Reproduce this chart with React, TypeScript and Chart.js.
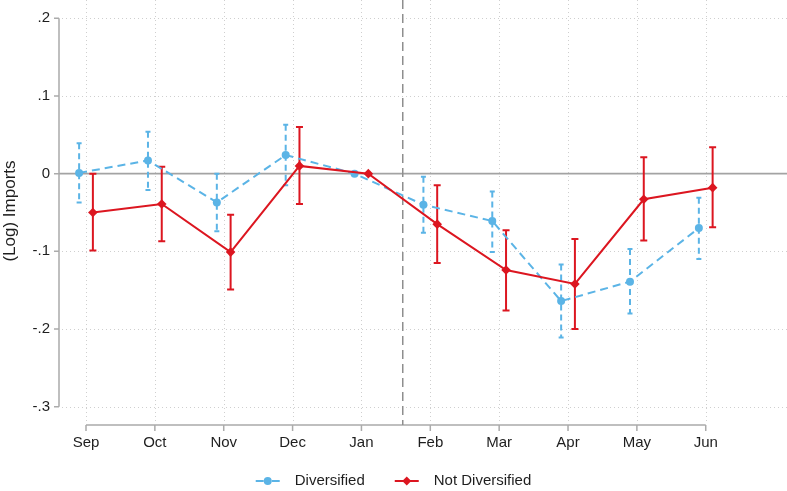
import React, { useEffect, useRef } from 'react';
import { Chart, registerables } from 'chart.js';

Chart.register(...registerables);

// ---- Data ----
const months = ['Sep', 'Oct', 'Nov', 'Dec', 'Jan', 'Feb', 'Mar', 'Apr', 'May', 'Jun'];

const divEst = [0.001, 0.017, -0.037, 0.024, 0.0, -0.040, -0.061, -0.164, -0.139, -0.070];
const divLo = [-0.037, -0.021, -0.074, -0.015, null, -0.076, -0.101, -0.211, -0.180, -0.110];
const divHi = [0.039, 0.054, 0.000, 0.063, null, -0.004, -0.023, -0.117, -0.097, -0.031];

const ndEst = [-0.050, -0.039, -0.101, 0.010, 0.0, -0.065, -0.124, -0.142, -0.033, -0.018];
const ndLo = [-0.099, -0.087, -0.149, -0.039, null, -0.115, -0.176, -0.200, -0.086, -0.069];
const ndHi = [0.000, 0.009, -0.053, 0.060, null, -0.015, -0.073, -0.084, 0.021, 0.034];

const yTickValues = [-0.3, -0.2, -0.1, 0, 0.1, 0.2];
const yTickLabels = ['-.3', '-.2', '-.1', '0', '.1', '.2'];

const seriesNames = ['Diversified', 'Not Diversified'];
const breakAt = 4.6; // vertical dashed reference line (between Jan and Feb)
const shift = 0.1; // horizontal dodge of the two series

// ---- Style ----
const BLUE = '#5bb4e6';
const RED = '#dc1620';
const FONT = '"Liberation Sans", Arial, Helvetica, sans-serif';
const TEXT = '#1e1e1e';
const W = 787;
const H = 491;

const monthIdx = months.map((_, i) => i);

function drawErrorBars(ctx: CanvasRenderingContext2D, x: any, y: any, lo: (number | null)[], hi: (number | null)[], dx: number, color: string, dash: number[], cap: number, lw: number) {
  ctx.save();
  ctx.strokeStyle = color;
  ctx.lineWidth = lw;
  for (let i = 0; i < lo.length; i++) {
    const l = lo[i];
    const h = hi[i];
    if (l == null || h == null) continue;
    const px = x.getPixelForValue(i + dx);
    const pl = y.getPixelForValue(l);
    const ph = y.getPixelForValue(h);
    ctx.setLineDash(dash);
    ctx.beginPath();
    ctx.moveTo(px, ph);
    ctx.lineTo(px, pl);
    ctx.stroke();
    ctx.setLineDash([]);
    ctx.beginPath();
    ctx.moveTo(px - cap, ph);
    ctx.lineTo(px + cap, ph);
    ctx.moveTo(px - cap, pl);
    ctx.lineTo(px + cap, pl);
    ctx.stroke();
  }
  ctx.restore();
}

const decorPlugin = {
  id: 'decor',
  beforeDatasetsDraw(chart: any) {
    const { ctx, chartArea: a, scales } = chart;
    const x = scales.x;
    const y = scales.y;
    ctx.save();

    // dotted grid
    ctx.strokeStyle = '#cfcfcf';
    ctx.lineWidth = 1;
    ctx.setLineDash([1, 3]);
    for (const v of yTickValues) {
      if (v === 0) continue;
      const py = Math.round(y.getPixelForValue(v)) + 0.5;
      ctx.beginPath();
      ctx.moveTo(a.left, py);
      ctx.lineTo(a.right, py);
      ctx.stroke();
    }
    for (const i of monthIdx) {
      const px = Math.round(x.getPixelForValue(i)) + 0.5;
      ctx.beginPath();
      ctx.moveTo(px, a.top);
      ctx.lineTo(px, a.bottom);
      ctx.stroke();
    }

    ctx.setLineDash([]);
    // zero line
    const axisX = a.left - 3;
    const zy = y.getPixelForValue(0);
    ctx.strokeStyle = '#a3a3a3';
    ctx.lineWidth = 1.6;
    ctx.beginPath();
    ctx.moveTo(axisX, zy);
    ctx.lineTo(a.right, zy);
    ctx.stroke();

    // y axis line + ticks
    ctx.strokeStyle = '#ababab';
    ctx.lineWidth = 1.5;
    ctx.beginPath();
    ctx.moveTo(axisX, y.getPixelForValue(yTickValues[yTickValues.length - 1]));
    ctx.lineTo(axisX, y.getPixelForValue(yTickValues[0]));
    for (const v of yTickValues) {
      const py = y.getPixelForValue(v);
      ctx.moveTo(axisX - 5, py);
      ctx.lineTo(axisX, py);
    }
    ctx.stroke();

    // x axis line + ticks
    const axisY = a.bottom + 3;
    ctx.beginPath();
    ctx.moveTo(x.getPixelForValue(0), axisY);
    ctx.lineTo(x.getPixelForValue(months.length - 1), axisY);
    for (const i of monthIdx) {
      const px = x.getPixelForValue(i);
      ctx.moveTo(px, axisY);
      ctx.lineTo(px, axisY + 6);
    }
    ctx.stroke();

    // vertical dashed line
    ctx.strokeStyle = '#8e8e8e';
    ctx.lineWidth = 1.5;
    ctx.setLineDash([9, 5]);
    const bx = x.getPixelForValue(breakAt);
    ctx.beginPath();
    ctx.moveTo(bx, a.top);
    ctx.lineTo(bx, axisY);
    ctx.stroke();
    ctx.setLineDash([]);

    // confidence intervals
    drawErrorBars(ctx, x, y, divLo, divHi, -shift, BLUE, [6, 4], 2.5, 2);
    drawErrorBars(ctx, x, y, ndLo, ndHi, shift, RED, [], 3.5, 2);

    ctx.restore();
  },
  afterDraw(chart: any) {
    const { ctx } = chart;
    ctx.save();
    const ly = 481;
    ctx.font = `15px ${FONT}`;
    ctx.textBaseline = 'middle';
    ctx.textAlign = 'left';
    const t1 = ctx.measureText(seriesNames[0]).width;
    const t2 = ctx.measureText(seriesNames[1]).width;
    const sym = 24;
    const total = sym + 15 + t1 + 30 + sym + 15 + t2;
    let sx = chart.width / 2 - total / 2;

    // Diversified: dashed line with circle
    ctx.strokeStyle = BLUE;
    ctx.fillStyle = BLUE;
    ctx.lineWidth = 2;
    ctx.beginPath();
    ctx.moveTo(sx, ly);
    ctx.lineTo(sx + 8, ly);
    ctx.moveTo(sx + sym - 8, ly);
    ctx.lineTo(sx + sym, ly);
    ctx.stroke();
    ctx.beginPath();
    ctx.arc(sx + sym / 2, ly, 4, 0, Math.PI * 2);
    ctx.fill();
    sx += sym + 15;
    ctx.fillStyle = TEXT;
    ctx.fillText(seriesNames[0], sx, ly);
    sx += t1 + 30;

    // Not diversified: solid line with diamond
    ctx.strokeStyle = RED;
    ctx.fillStyle = RED;
    ctx.beginPath();
    ctx.moveTo(sx, ly);
    ctx.lineTo(sx + sym, ly);
    ctx.stroke();
    const cx = sx + sym / 2;
    const r = 4.5;
    ctx.beginPath();
    ctx.moveTo(cx, ly - r);
    ctx.lineTo(cx + r, ly);
    ctx.lineTo(cx, ly + r);
    ctx.lineTo(cx - r, ly);
    ctx.closePath();
    ctx.fill();
    sx += sym + 15;
    ctx.fillStyle = TEXT;
    ctx.fillText(seriesNames[1], sx, ly);
    ctx.restore();
  },
};

export default function App() {
  const ref = useRef<HTMLCanvasElement | null>(null);

  useEffect(() => {
    if (!ref.current) return;
    const yPerUnit = 776.8;
    const areaH = 422;
    const yMax = 0.2 + 18.3 / yPerUnit;
    const yMin = yMax - areaH / yPerUnit;
    const left = 62;
    const xPerUnit = 68.86;
    const sepPx = 86;
    const xMin = (left - sepPx) / xPerUnit;
    const xMax = xMin + (W - left) / xPerUnit;

    const chart = new Chart(ref.current, {
      type: 'line',
      data: {
        datasets: [
          {
            label: seriesNames[1],
            data: ndEst.map((v, i) => ({ x: i + shift, y: v })),
            borderColor: RED,
            backgroundColor: RED,
            borderWidth: 2,
            pointStyle: 'rectRot',
            pointRadius: 4.8,
            pointBorderWidth: 0,
            order: 0,
          },
          {
            label: seriesNames[0],
            data: divEst.map((v, i) => ({ x: i - shift, y: v })),
            borderColor: BLUE,
            backgroundColor: BLUE,
            borderWidth: 2,
            borderDash: [8, 5],
            pointStyle: 'circle',
            pointRadius: 4,
            pointBorderWidth: 0,
            order: 1,
          },
        ],
      },
      options: {
        responsive: false,
        animation: false,
        events: [],
        layout: { autoPadding: false, padding: { left: 0, right: 0, top: 0, bottom: H - areaH - 30 } },
        plugins: {
          legend: { display: false },
          tooltip: { enabled: false },
        },
        scales: {
          x: {
            type: 'linear',
            min: xMin,
            max: xMax,
            grid: { display: false, drawTicks: false, tickLength: 0 },
            border: { display: false },
            afterBuildTicks: (s: any) => {
              s.ticks = monthIdx.map((v) => ({ value: v }));
            },
            afterFit: (s: any) => {
              s.height = 30;
              s.paddingLeft = 0;
              s.paddingRight = 0;
            },
            ticks: {
              autoSkip: false,
              maxRotation: 0,
              minRotation: 0,
              padding: 12,
              color: TEXT,
              font: { size: 15, family: FONT },
              callback: (v: any) => months[Math.round(v)] ?? '',
            },
          },
          y: {
            type: 'linear',
            min: yMin,
            max: yMax,
            grid: { display: false, drawTicks: false, tickLength: 0 },
            border: { display: false },
            afterBuildTicks: (s: any) => {
              s.ticks = yTickValues.map((v) => ({ value: v }));
            },
            afterFit: (s: any) => {
              s.width = left;
              s.paddingTop = 0;
              s.paddingBottom = 0;
            },
            ticks: {
              padding: 12,
              color: TEXT,
              font: { size: 15, family: FONT },
              callback: (v: any) => {
                const k = yTickValues.findIndex((t) => Math.abs(t - v) < 1e-9);
                return k >= 0 ? yTickLabels[k] : '';
              },
            },
            title: {
              display: true,
              text: '(Log) Imports',
              color: TEXT,
              font: { size: 17, family: FONT },
              padding: { top: 0, bottom: 0 },
            },
          },
        },
      },
      plugins: [decorPlugin],
    } as any);
    return () => chart.destroy();
  }, []);

  return (
    <div style={{ position: 'fixed', left: 0, top: 0, width: W, height: H, background: '#fff' }}>
      <canvas ref={ref} width={W} height={H} style={{ width: W, height: H, display: 'block' }} />
    </div>
  );
}
